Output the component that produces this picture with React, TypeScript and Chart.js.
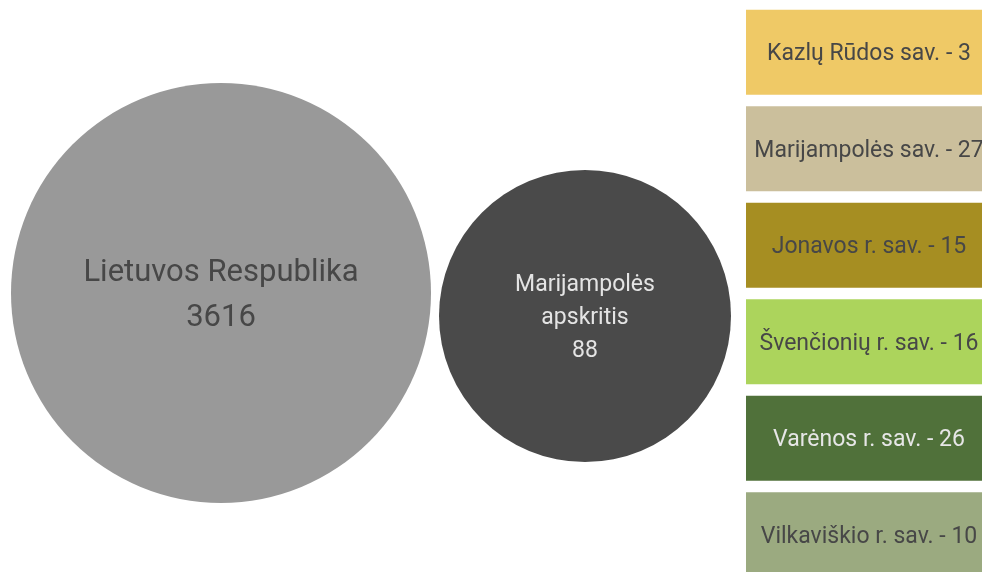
import React, { useEffect, useRef } from "react";
import { Chart, registerables } from "chart.js";

Chart.register(...registerables);

// ---- data ----
const circleNames = [["Lietuvos Respublika"], ["Marijampolės", "apskritis"]];
const circleValues = [3616, 88];
const boxNames = [
  "Kazlų Rūdos sav.",
  "Marijampolės sav.",
  "Jonavos r. sav.",
  "Švenčionių r. sav.",
  "Varėnos r. sav.",
  "Vilkaviškio r. sav.",
];
const boxValues = [3, 27, 15, 16, 26, 10];

// ---- layout / style (not data) ----
const circleLayout = [
  { x: 221, y: 293, r: 210 },
  { x: 585, y: 316, r: 146 },
];
const circleColors = ["#999999", "#4a4a4a"];
const circleTextColors = ["#474747", "#e4e4e4"];
const circleFontSizes = [31, 23];
const circleLineHeights = [45, 33];
const boxFontSize = 23;
const boxColors = ["#efc966", "#cbbf9c", "#a68e22", "#acd45c", "#50713a", "#9baa80"];
const boxTextColors = ["#474747", "#474747", "#474747", "#474747", "#e6e6e6", "#474747"];

const W = 982;
const H = 572;
const FONT = `Roboto, "Noto Sans", sans-serif`;

const circleLabelPlugin = {
  id: "circleLabels",
  afterDatasetsDraw(chart: any) {
    const ctx = chart.ctx;
    const meta = chart.getDatasetMeta(0);
    meta.data.forEach((el: any, i: number) => {
      const lines = [...circleNames[i], String(circleValues[i])];
      const lh = circleLineHeights[i];
      const fs = circleFontSizes[i];
      ctx.save();
      ctx.font = `${fs}px ${FONT}`;
      ctx.fillStyle = circleTextColors[i];
      ctx.textAlign = "center";
      ctx.textBaseline = "alphabetic";
      const start = el.y - ((lines.length - 1) * lh) / 2 + fs * 0.35;
      lines.forEach((t, k) => ctx.fillText(t, el.x, start + k * lh));
      ctx.restore();
    });
  },
};

const boxLabelPlugin = {
  id: "boxLabels",
  afterDatasetsDraw(chart: any) {
    const ctx = chart.ctx;
    const meta = chart.getDatasetMeta(0);
    meta.data.forEach((el: any, i: number) => {
      ctx.save();
      ctx.font = `${boxFontSize}px ${FONT}`;
      ctx.fillStyle = boxTextColors[i];
      ctx.textAlign = "center";
      ctx.textBaseline = "alphabetic";
      ctx.fillText(`${boxNames[i]} - ${boxValues[i]}`, (el.x + el.base) / 2, el.y + boxFontSize * 0.35);
      ctx.restore();
    });
  },
};

export default function App() {
  const bubbleRef = useRef<HTMLCanvasElement>(null);
  const barRef = useRef<HTMLCanvasElement>(null);

  useEffect(() => {
    const bubble = new Chart(bubbleRef.current!, {
      type: "bubble",
      data: {
        datasets: [
          {
            data: circleLayout.map((c, i) => ({ x: c.x, y: c.y, r: c.r, v: circleValues[i] })) as any,
            backgroundColor: circleColors,
            borderWidth: 0,
            hoverBorderWidth: 0,
            clip: false as any,
          },
        ],
      },
      options: {
        animation: false,
        responsive: false,
        events: [],
        layout: { padding: 0, autoPadding: false },
        plugins: { legend: { display: false }, tooltip: { enabled: false } },
        scales: {
          x: { type: "linear", min: 0, max: W, display: false },
          y: { type: "linear", min: 0, max: H, reverse: true, display: false },
        },
      },
      plugins: [circleLabelPlugin],
    });

    const bar = new Chart(barRef.current!, {
      type: "bar",
      data: {
        labels: boxNames,
        datasets: [
          {
            data: boxValues.map(() => [0, 1]) as any,
            backgroundColor: boxColors,
            borderWidth: 0,
            categoryPercentage: 1,
            barPercentage: 0.88,
          },
        ],
      },
      options: {
        indexAxis: "y",
        animation: false,
        responsive: false,
        events: [],
        layout: { padding: 0, autoPadding: false },
        plugins: { legend: { display: false }, tooltip: { enabled: false } },
        scales: {
          x: { type: "linear", min: 0, max: 1, display: false },
          y: { display: false },
        },
      },
      plugins: [boxLabelPlugin],
    });

    return () => {
      bubble.destroy();
      bar.destroy();
    };
  }, []);

  return (
    <div style={{ position: "fixed", left: 0, top: 0, width: W, height: H, overflow: "hidden", background: "#fff" }}>
      <canvas ref={bubbleRef} width={W} height={H} style={{ position: "absolute", left: 0, top: 0 }} />
      <div style={{ position: "absolute", left: 746, top: 0, width: W - 746, height: H, overflow: "hidden" }}>
        <canvas ref={barRef} width={246} height={579} style={{ position: "absolute", left: 0, top: 4 }} />
      </div>
    </div>
  );
}
